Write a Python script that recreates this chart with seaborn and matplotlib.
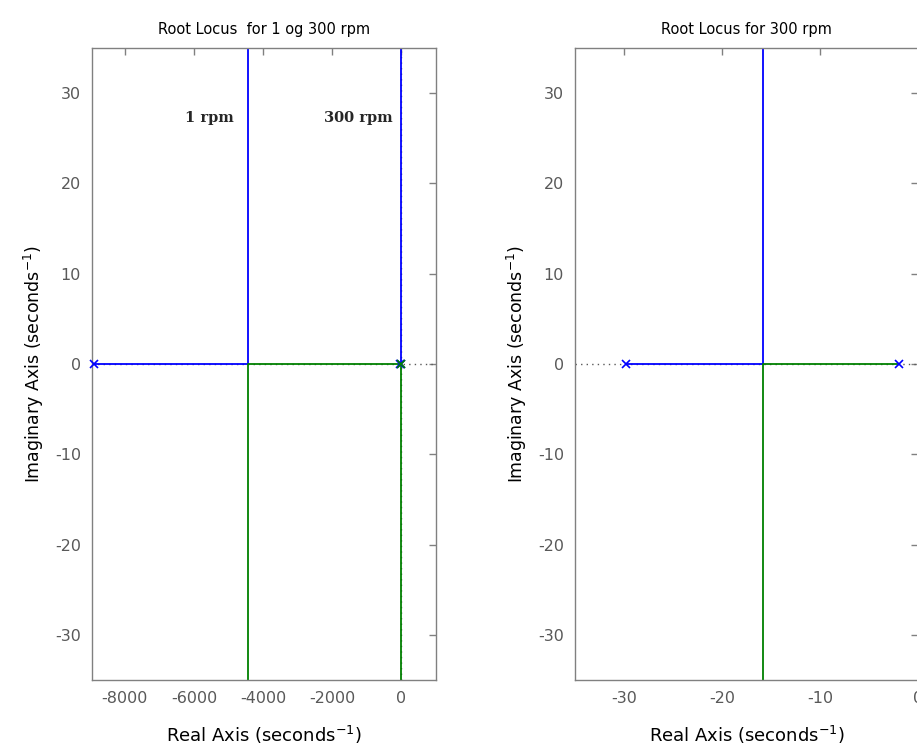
import numpy as np
import pandas as pd
import matplotlib
matplotlib.use("Agg")
import matplotlib.pyplot as plt
import seaborn as sns

# ---- data ----
poles_1rpm = [-8900.0, -2.0]       # open-loop poles, 1 rpm
poles_300rpm = [-29.8, -1.9]       # open-loop poles, 300 rpm
imag_far = 200.0                   # asymptote end (off-axis)
left_xticks = [-8000, -6000, -4000, -2000, 0]
right_xticks = [-30, -20, -10, 0]
yticks = [-30, -20, -10, 0, 10, 20, 30]
titles = ["Root Locus  for 1 og 300 rpm", "Root Locus for 300 rpm"]
annot_labels = ["1 rpm", "300 rpm"]

BLUE = "#0000ff"
GREEN = "#008000"


def locus_frame(poles, name):
    p1, p2 = poles
    s = (p1 + p2) / 2.0  # breakaway point of a two-pole locus
    rows = [
        (name + "a", "b1", p1, 0.0), (name + "a", "b1", s, 0.0), (name + "a", "b1", s, imag_far),
        (name + "b", "b2", p2, 0.0), (name + "b", "b2", s, 0.0), (name + "b", "b2", s, -imag_far),
    ]
    return pd.DataFrame(rows, columns=["seg", "branch", "re", "im"])


sns.set_theme(style="white")
plt.rcParams["font.family"] = ["DejaVu Sans"]

fig = plt.figure(figsize=(9.17, 7.51), dpi=100)
ax1 = fig.add_axes([92 / 917, 1 - 680 / 751, (436 - 92) / 917, (680 - 48) / 751])
ax2 = fig.add_axes([575 / 917, 1 - 680 / 751, (918 - 575) / 917, (680 - 48) / 751])

palette = {"b1": BLUE, "b2": GREEN}


def draw(ax, systems, marker_colors, xlim, xticks, title):
    ax.axhline(0, color="0.35", ls=(0, (1, 3)), lw=1.0, zorder=1)
    ax.axvline(0, color="0.35", ls=(0, (1, 3)), lw=1.0, zorder=1)
    for (poles, name) in systems:
        df = locus_frame(poles, name)
        sns.lineplot(data=df, x="re", y="im", hue="branch", units="seg",
                     estimator=None, sort=False, palette=palette,
                     legend=False, lw=1.3, ax=ax, zorder=2)
    for (poles, name), cols in zip(systems, marker_colors):
        pdf = pd.DataFrame({"re": poles, "im": [0.0] * len(poles), "c": cols})
        for _, r in pdf.iterrows():
            ax.plot(r["re"], r["im"], marker="x", ms=6, mew=1.2, color=r["c"],
                    ls="none", zorder=3, clip_on=False)
    ax.set_xlim(*xlim)
    ax.set_ylim(-35, 35)
    ax.set_xticks(xticks)
    ax.set_yticks(yticks)
    ax.set_xticklabels([str(t) for t in xticks])
    ax.set_yticklabels([str(t) for t in yticks])
    ax.tick_params(direction="in", top=True, right=True, length=5, width=1,
                   color="0.5", labelcolor="0.35", labelsize=11.5, pad=8)
    for sp in ax.spines.values():
        sp.set_color("0.5")
        sp.set_linewidth(1.0)
    ax.set_xlabel(r"Real Axis (seconds$^{-1}$)", fontsize=13, labelpad=13, color="black")
    ax.set_ylabel(r"Imaginary Axis (seconds$^{-1}$)", fontsize=12.5, labelpad=6, color="black")
    ax.set_title(title, fontsize=10.5, pad=10, color="black")


draw(ax1, [(poles_300rpm, "r300"), (poles_1rpm, "r1")],
     [[BLUE, BLUE], [BLUE, GREEN]], (-8950, 1000), left_xticks, titles[0])
draw(ax2, [(poles_300rpm, "r300")], [[BLUE, BLUE]], (-35, 0), right_xticks, titles[1])

ax1.text(-4850, 27.2, annot_labels[0], ha="right", va="center",
         fontsize=10.5, fontweight="bold", family="DejaVu Serif")
ax1.text(-250, 27.2, annot_labels[1], ha="right", va="center",
         fontsize=10.5, fontweight="bold", family="DejaVu Serif")

fig.savefig("out.png", dpi=100)
